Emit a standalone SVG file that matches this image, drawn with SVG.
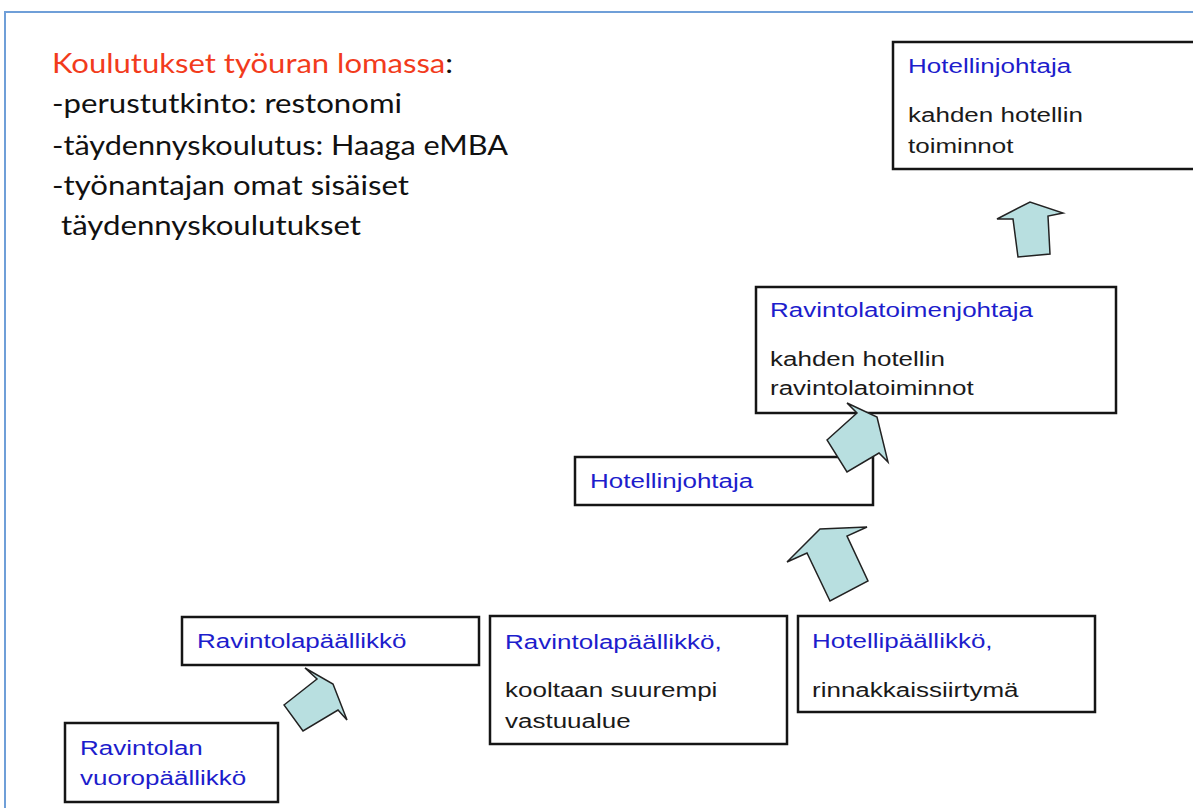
<svg xmlns="http://www.w3.org/2000/svg" width="1193" height="808" viewBox="0 0 1193 808">
<style>
.box{fill:#fff;stroke:#151515;stroke-width:2.5}
.t{font-family:"Liberation Sans",Arial,sans-serif;font-size:21px}
.blue{fill:#1d1dcc}
.blk{fill:#1a1a1a}
.cal{font-family:Lato,"Open Sans",sans-serif;font-size:26px;fill:#111}
.red{fill:#f23b1c}
.arr{fill:#b8dfe0;stroke:#222;stroke-width:1.5;stroke-linejoin:miter}
</style>
<rect x="0" y="0" width="1193" height="808" fill="#fff"/>
<path d="M1200,12 H5 V815" fill="none" stroke="#6f9fd8" stroke-width="2"/>

<g id="intro">
<text class="cal" x="52" y="73" textLength="401" lengthAdjust="spacingAndGlyphs"><tspan class="red">Koulutukset työuran lomassa</tspan>:</text>
<text class="cal" x="52" y="113" textLength="350" lengthAdjust="spacingAndGlyphs">-perustutkinto: restonomi</text>
<text class="cal" x="52" y="155" textLength="456" lengthAdjust="spacingAndGlyphs">-täydennyskoulutus: Haaga eMBA</text>
<text class="cal" x="52" y="195" textLength="357" lengthAdjust="spacingAndGlyphs">-työnantajan omat sisäiset</text>
<text class="cal" x="61" y="235" textLength="300" lengthAdjust="spacingAndGlyphs">täydennyskoulutukset</text>
</g>

<g id="hotellinjohtaja-top">
<rect class="box" x="893" y="42" width="310" height="127"/>
<text class="t blue" transform="matrix(1.238 0 0 1 908 73)">Hotellinjohtaja</text>
<text class="t blk" transform="matrix(1.238 0 0 1 908 122)">kahden hotellin</text>
<text class="t blk" transform="matrix(1.238 0 0 1 908 153)">toiminnot</text>
</g>

<g id="ravintolatoimenjohtaja">
<rect class="box" x="756" y="287" width="360" height="126"/>
<text class="t blue" transform="matrix(1.238 0 0 1 770 317)">Ravintolatoimenjohtaja</text>
<text class="t blk" transform="matrix(1.238 0 0 1 770 366)">kahden hotellin</text>
<text class="t blk" transform="matrix(1.238 0 0 1 770 395)">ravintolatoiminnot</text>
</g>

<g id="hotellinjohtaja-mid">
<rect class="box" x="575" y="457" width="298" height="48"/>
<text class="t blue" transform="matrix(1.238 0 0 1 590 488)">Hotellinjohtaja</text>
</g>

<g id="ravintolapaallikko">
<rect class="box" x="182" y="617" width="297" height="48"/>
<text class="t blue" transform="matrix(1.238 0 0 1 197 648)">Ravintolapäällikkö</text>
</g>

<g id="vuoropaallikko">
<rect class="box" x="65" y="723" width="213" height="79"/>
<text class="t blue" transform="matrix(1.238 0 0 1 80 755)">Ravintolan</text>
<text class="t blue" transform="matrix(1.238 0 0 1 80 785)">vuoropäällikkö</text>
</g>

<g id="ravintolapaallikko-suurempi">
<rect class="box" x="490" y="616" width="297" height="128"/>
<text class="t blue" transform="matrix(1.238 0 0 1 505 649)">Ravintolapäällikkö,</text>
<text class="t blk" transform="matrix(1.238 0 0 1 505 697)">kooltaan suurempi</text>
<text class="t blk" transform="matrix(1.238 0 0 1 505 728)">vastuualue</text>
</g>

<g id="hotellipaallikko">
<rect class="box" x="798" y="616" width="297" height="96"/>
<text class="t blue" transform="matrix(1.238 0 0 1 812 648)">Hotellipäällikkö,</text>
<text class="t blk" transform="matrix(1.238 0 0 1 812 697)">rinnakkaissiirtymä</text>
</g>

<g id="connectors">
<polygon class="arr" points="284,705 317,679 305,668 333,684 347,720 338,710 303,731"/>
<polygon class="arr" points="827,440 857,413 847,403 877,417 888,462 879,453 847,472"/>
<polygon class="arr" points="787,562 820,529 867,527 847,536 868,581 830,601 807,553"/>
<polygon class="arr" points="997,219 1030,202 1063,213 1048,216 1050,254 1018,257 1013,219"/>
</g>
</svg>
